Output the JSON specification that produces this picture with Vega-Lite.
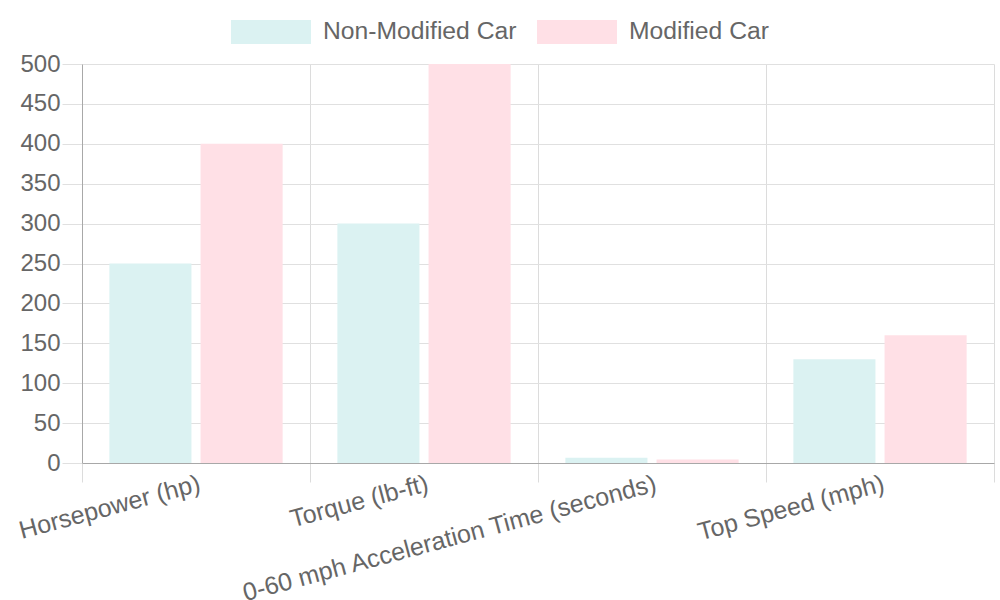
{
  "$schema": "https://vega.github.io/schema/vega-lite/v6.json",
  "width": 912,
  "height": 399,
  "autosize": {"type": "none"},
  "padding": {"left": 82, "top": 64, "right": 6, "bottom": 137},
  "background": "white",
  "data": {
    "values": [
      {"metric": "Horsepower (hp)", "car": "Non-Modified Car", "value": 250},
      {"metric": "Horsepower (hp)", "car": "Modified Car", "value": 400},
      {"metric": "Torque (lb-ft)", "car": "Non-Modified Car", "value": 300},
      {"metric": "Torque (lb-ft)", "car": "Modified Car", "value": 500},
      {"metric": "0-60 mph Acceleration Time (seconds)", "car": "Non-Modified Car", "value": 6.5},
      {"metric": "0-60 mph Acceleration Time (seconds)", "car": "Modified Car", "value": 4.5},
      {"metric": "Top Speed (mph)", "car": "Non-Modified Car", "value": 130},
      {"metric": "Top Speed (mph)", "car": "Modified Car", "value": 160}
    ]
  },
  "mark": {"type": "bar"},
  "encoding": {
    "x": {
      "field": "metric",
      "type": "nominal",
      "sort": null,
      "scale": {"paddingInner": 0, "paddingOuter": 0},
      "axis": {
        "title": null,
        "tickBand": "extent",
        "grid": true,
        "gridColor": "#dcdcdc",
        "tickColor": "#dcdcdc",
        "tickSize": 19,
        "domainColor": "#a8a8a8",
        "labelAngle": -15,
        "labelAlign": "right",
        "labelBaseline": "top",
        "labelPadding": -11,
        "labelFont": "Liberation Sans",
        "labelFontSize": 25,
        "labelColor": "#666666",
        "labelOverlap": false,
        "labelLimit": 0
      }
    },
    "xOffset": {
      "field": "car",
      "type": "nominal",
      "sort": ["Non-Modified Car", "Modified Car"],
      "scale": {"paddingInner": 0.1, "paddingOuter": 0.3}
    },
    "y": {
      "field": "value",
      "type": "quantitative",
      "scale": {"domain": [0, 500], "nice": false},
      "axis": {
        "title": null,
        "values": [0, 50, 100, 150, 200, 250, 300, 350, 400, 450, 500],
        "grid": true,
        "gridColor": "#e0e0e0",
        "tickColor": "#e0e0e0",
        "tickSize": 20,
        "labelPadding": 2,
        "domainColor": "#a8a8a8",
        "labelFont": "Liberation Sans",
        "labelFontSize": 24,
        "labelColor": "#666666"
      }
    },
    "color": {
      "field": "car",
      "type": "nominal",
      "sort": ["Non-Modified Car", "Modified Car"],
      "scale": {"domain": ["Non-Modified Car", "Modified Car"], "range": ["#dbf2f2", "#ffe0e6"]},
      "legend": {
        "title": null,
        "orient": "none",
        "direction": "horizontal",
        "legendX": 149,
        "legendY": -72,
        "symbolType": "M-1,-0.3H1V0.3H-1Z",
        "symbolSize": 6400,
        "symbolStrokeWidth": 0,
        "symbolOpacity": 1,
        "labelOffset": 12,
        "columnPadding": 20,
        "labelFont": "Liberation Sans",
        "labelFontSize": 24.7,
        "labelColor": "#666666",
        "labelLimit": 0
      }
    }
  },
  "config": {
    "view": {"stroke": null},
    "bar": {"opacity": 1}
  }
}
